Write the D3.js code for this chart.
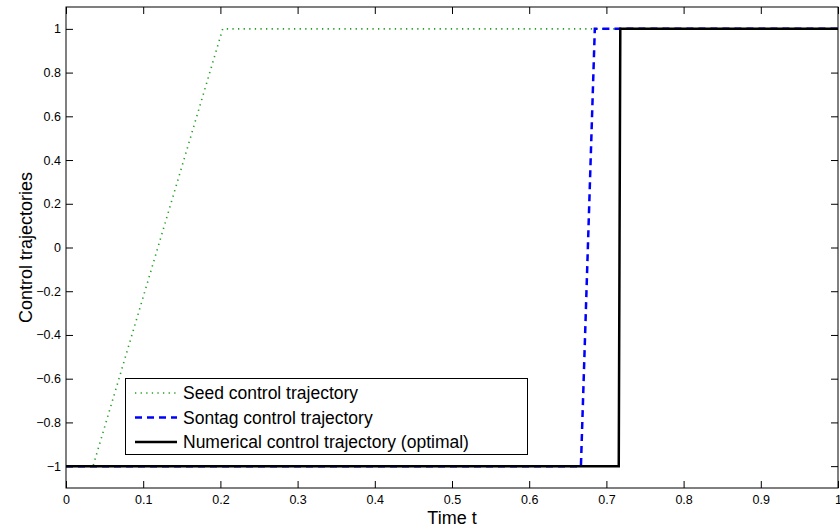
<!DOCTYPE html>
<html><head><meta charset="utf-8">
<script src="https://cdn.jsdelivr.net/npm/d3@7"></script>
<style>body{margin:0;background:#fff;} text{font-family:"Liberation Sans",Arial,Helvetica,sans-serif;}</style>
</head><body>
<svg id="c" width="840" height="531"></svg>
<script>
const xTicks = [0,0.1,0.2,0.3,0.4,0.5,0.6,0.7,0.8,0.9,1];
const yTicks = [-1,-0.8,-0.6,-0.4,-0.2,0,0.2,0.4,0.6,0.8,1];
const seedT = [0, 0.035, 0.203, 1];
const seedU = [-1, -1, 1, 1];
const sontagT = [0, 0.667, 0.685, 1];
const sontagU = [-1, -1, 1, 1];
const numT = [0, 0.716, 0.718, 1];
const numU = [-1, -1, 1, 1];
const seriesNames = ["Seed control trajectory","Sontag control trajectory","Numerical control trajectory (optimal)"];

const svg = d3.select("#c");
const L=66, R=838, T=7, B=488;
const x = d3.scaleLinear().domain([0,1]).range([L,R]);
const y = d3.scaleLinear().domain([-1.1,1.1]).range([B,T]);
const fmt = v => (v<0?"\u2212":"") + String(Math.abs(Math.round(v*10)/10));

const g = svg.append("g");
const line = d3.line().x(d=>x(d[0])).y(d=>y(d[1]));
const styles = [
  {t:seedT,u:seedU,color:"#22a022",w:1.6,dash:"1.3,4.3"},
  {t:sontagT,u:sontagU,color:"#0000ff",w:2.5,dash:"7,5"},
  {t:numT,u:numU,color:"#000",w:2.5,dash:null}
];
styles.forEach(s=>{
  g.append("path").datum(s.t.map((t,i)=>[t,s.u[i]]))
   .attr("d",line).attr("fill","none").attr("stroke",s.color)
   .attr("stroke-width",s.w).attr("stroke-dasharray",s.dash);
});

const tl=7;
const ax = svg.append("g");
ax.append("g").attr("transform",`translate(0,${B})`)
  .call(d3.axisBottom(x).tickValues(xTicks).tickSizeInner(-tl).tickSizeOuter(0).tickPadding(7).tickFormat(d=>String(d)));
ax.append("g").attr("transform",`translate(0,${T})`)
  .call(d3.axisTop(x).tickValues(xTicks).tickSizeInner(-tl).tickSizeOuter(0).tickFormat(""));
ax.append("g").attr("transform",`translate(${L},0)`)
  .call(d3.axisLeft(y).tickValues(yTicks).tickSizeInner(-tl).tickSizeOuter(0).tickPadding(5).tickFormat(fmt));
ax.append("g").attr("transform",`translate(${R},0)`)
  .call(d3.axisRight(y).tickValues(yTicks).tickSizeInner(-tl).tickSizeOuter(0).tickFormat(""));
ax.selectAll(".domain").remove();
ax.selectAll(".tick line").attr("stroke","#000").attr("stroke-width",1);
ax.selectAll(".tick text").attr("font-size",12.5).attr("fill","#000")
  .attr("font-family","Liberation Sans,Arial,sans-serif");
svg.append("rect").attr("x",L).attr("y",T).attr("width",R-L).attr("height",B-T)
  .attr("fill","none").attr("stroke","#000").attr("stroke-width",1);

svg.append("text").attr("x",(L+R)/2).attr("y",524).attr("text-anchor","middle")
  .attr("font-size",18).text("Time t");
svg.append("text").attr("transform",`translate(32,${(T+B)/2}) rotate(-90)`)
  .attr("text-anchor","middle").attr("font-size",18).text("Control trajectories");

const lg = svg.append("g");
lg.append("rect").attr("x",125.5).attr("y",378.5).attr("width",402).attr("height",76)
  .attr("fill","#fff").attr("stroke","#000").attr("stroke-width",1);
styles.forEach((s,i)=>{
  const yy = 393 + i*24.5;
  lg.append("line").attr("x1",135).attr("x2",177).attr("y1",yy).attr("y2",yy)
    .attr("stroke",s.color).attr("stroke-width",s.w).attr("stroke-dasharray",s.dash);
  lg.append("text").attr("x",183).attr("y",yy+6).attr("font-size",17.5).text(seriesNames[i]);
});
</script>
</body></html>
